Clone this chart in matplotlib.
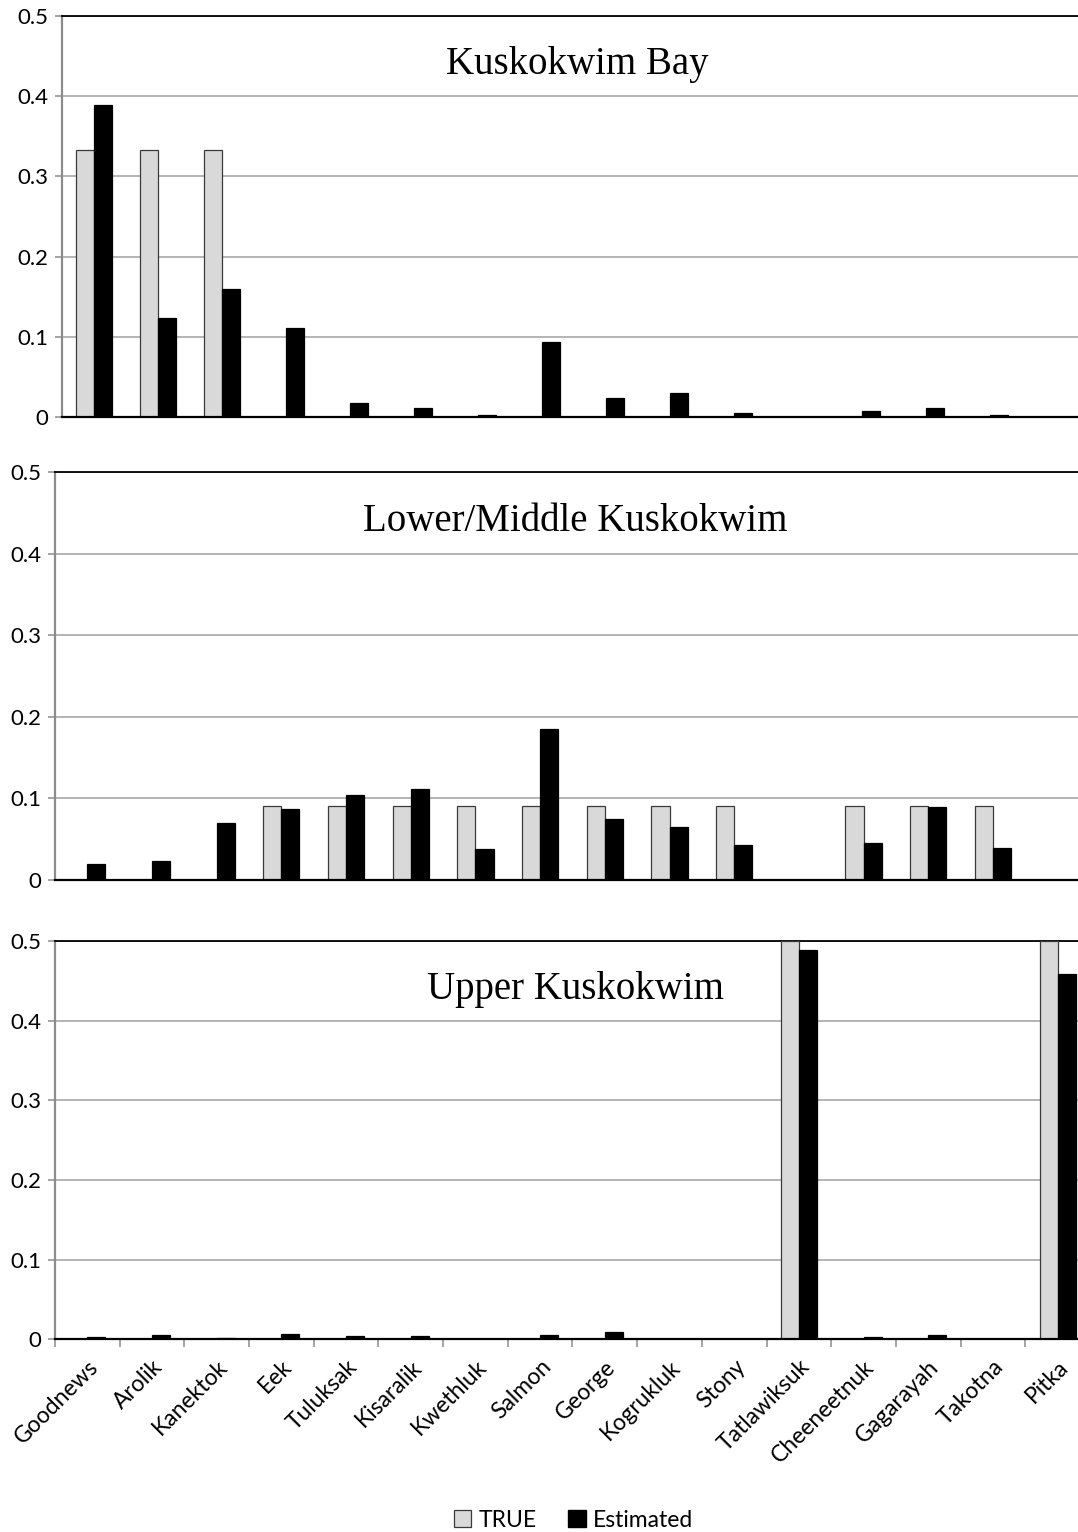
import matplotlib.pyplot as plt
from matplotlib.patches import Patch
import numpy as np

rivers = ["Goodnews", "Arolik", "Kanektok", "Eek", "Tuluksak", "Kisaralik",
          "Kwethluk", "Salmon", "George", "Kogrukluk", "Stony", "Tatlawiksuk",
          "Cheeneetnuk", "Gagarayah", "Takotna", "Pitka"]

titles = ["Kuskokwim Bay", "Lower/Middle Kuskokwim", "Upper Kuskokwim"]

bay_true = [0.333, 0.333, 0.333, 0, 0, 0, 0, 0, 0, 0, 0, 0, 0, 0, 0, 0]
bay_est = [0.389, 0.124, 0.159, 0.111, 0.017, 0.011, 0.003, 0.093,
           0.024, 0.030, 0.005, 0.0, 0.0075, 0.011, 0.003, 0.0]

mid_true = [0, 0, 0, 0.0909, 0.0909, 0.0909, 0.0909, 0.0909,
            0.0909, 0.0909, 0.0909, 0, 0.0909, 0.0909, 0.0909, 0]
mid_est = [0.0196, 0.0237, 0.070, 0.0867, 0.1047, 0.111, 0.0377, 0.1845,
           0.0749, 0.065, 0.043, 0.0, 0.045, 0.089, 0.039, 0.0]

up_true = [0, 0, 0, 0, 0, 0, 0, 0, 0, 0, 0, 0.5, 0, 0, 0, 0.5]
up_est = [0.003, 0.0056, 0.0012, 0.0065, 0.004, 0.004, 0.001, 0.005,
          0.0099, 0.001, 0.001, 0.489, 0.0034, 0.005, 0.001, 0.458]

panels = [(bay_true, bay_est), (mid_true, mid_est), (up_true, up_est)]

# axes rectangles in figure fractions (the right edge runs past the image like the original)
rects = [[0.0575, 0.7278, 0.9499, 0.2619],
         [0.051, 0.4256, 0.9601, 0.2663],
         [0.051, 0.1257, 0.9601, 0.2601]]

fig = plt.figure(figsize=(10.78, 15.32), dpi=100)
x = np.arange(len(rivers))
w = 0.28
grey = "#d9d9d9"
axis_grey = "#8c8c8c"
sans = ["Lato", "DejaVu Sans"]

for k, ((tr, est), rect, title) in enumerate(zip(panels, rects, titles)):
    ax = fig.add_axes(rect)
    ax.bar(x - w / 2, tr, w, color=grey, edgecolor="#3a3a3a", linewidth=0.9, zorder=3)
    ax.bar(x + w / 2, est, w, color="black", edgecolor="black", linewidth=0.9, zorder=3)
    ax.set_xlim(-0.5, len(rivers) - 0.5)
    ax.set_ylim(0, 0.5)
    ax.set_yticks([0, 0.1, 0.2, 0.3, 0.4, 0.5])
    ax.set_yticklabels(["0", "0.1", "0.2", "0.3", "0.4", "0.5"],
                       family=sans, fontsize=16)
    ax.yaxis.grid(True, color="#a0a0a0", linewidth=1.1, zorder=0)
    ax.set_axisbelow(True)
    ax.tick_params(axis="y", length=5, width=1.1, color=axis_grey, pad=5)
    ax.spines["right"].set_visible(False)
    ax.spines["top"].set_color("black")
    ax.spines["top"].set_linewidth(1.3)
    ax.spines["left"].set_color(axis_grey)
    ax.spines["left"].set_linewidth(1.6)
    ax.spines["bottom"].set_color("black")
    ax.spines["bottom"].set_linewidth(1.6)
    ax.spines["bottom"].set_zorder(4)
    ax.text(0.503, 0.878, title, transform=ax.transAxes, ha="center", va="center",
            family="Liberation Serif", fontsize=28)
    if k < 2:
        ax.set_xticks([])
    else:
        ax.set_xticks(x)
        ax.set_xticklabels(rivers, rotation=45, ha="right", rotation_mode="anchor",
                           family=sans, fontsize=16.5)
        ax.tick_params(axis="x", which="major", length=0, pad=12)
        ax.set_xticks(np.arange(len(rivers) + 1) - 0.5, minor=True)
        ax.tick_params(axis="x", which="minor", length=6, width=1.1, color=axis_grey)

handles = [Patch(facecolor=grey, edgecolor="#3a3a3a", linewidth=0.9, label="TRUE"),
           Patch(facecolor="black", edgecolor="black", label="Estimated")]
fig.legend(handles=handles, loc="center", bbox_to_anchor=(0.532, 0.0078), ncol=2,
           frameon=False, prop={"family": sans, "size": 16.5},
           handlelength=0.75, handleheight=0.75, handletextpad=0.3, columnspacing=1.4)

fig.savefig("out.png", dpi=100)
